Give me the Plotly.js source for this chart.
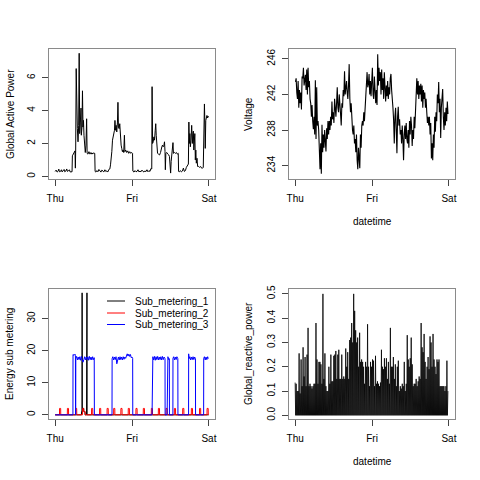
<!DOCTYPE html>
<html>
<head>
<meta charset="utf-8">
<script src="https://cdn.plot.ly/plotly-3.0.1.min.js"></script>
<style>html,body{margin:0;padding:0;background:#fff}#chart{width:480px;height:480px}</style>
</head>
<body>
<div id="chart"></div>
<script>
// ---------- DATA (hours since Thursday 00:00) ----------
const dayTicks = [0, 24, 48];
const dayLabels = ["Thu", "Fri", "Sat"];

// Global active power (kilowatts)
const gapHours = [0.0,0.31,0.62,0.93,1.14,1.34,1.66,1.97,2.17,2.48,
2.79,3.0,3.31,3.62,3.83,4.14,4.45,4.66,4.97,5.28,
5.38,5.69,6.0,6.2,6.31,6.41,6.57,6.72,6.93,7.14,
7.34,7.5,7.66,7.86,8.07,8.17,8.38,8.53,8.69,8.84,
9.0,9.21,9.41,9.62,9.83,9.98,10.24,10.55,10.86,11.17,
11.48,11.79,12.1,12.36,12.47,12.72,13.03,13.34,13.66,13.97,
14.28,14.59,14.9,15.21,15.52,15.83,16.14,16.45,16.76,17.07,
17.28,17.49,17.69,17.9,18.1,18.31,18.52,18.67,18.83,19.03,
19.24,19.45,19.6,19.76,19.97,20.17,20.38,20.59,20.79,21.0,
21.21,21.41,21.62,21.78,22.03,22.34,22.66,22.97,23.28,23.59,
23.9,24.16,24.26,24.62,24.93,25.24,25.55,25.86,26.17,26.48,
26.79,27.1,27.41,27.72,28.03,28.35,28.66,28.97,29.28,29.59,
29.9,30.16,30.26,30.41,30.62,30.83,31.03,31.24,31.4,31.55,
31.76,31.97,32.28,32.59,32.9,33.1,33.31,33.52,33.72,33.93,
34.14,34.3,34.4,34.55,34.86,35.17,35.48,35.69,35.9,36.05,
36.21,36.41,36.62,36.78,36.93,37.24,37.55,37.86,38.17,38.43,
38.53,38.79,39.1,39.41,39.72,40.03,40.34,40.66,40.97,41.17,
41.38,41.59,41.74,41.9,42.05,42.21,42.41,42.62,42.83,42.98,
43.14,43.29,43.45,43.6,43.76,43.91,44.07,44.28,44.48,44.79,
45.1,45.41,45.72,46.03,46.24,46.34,46.45,46.6,46.76,46.86,
47.02,47.17,47.38,47.59,47.74,47.9];
const gapPower = [0.30,0.38,0.26,0.32,0.44,0.28,0.30,0.40,0.27,0.34,
0.42,0.28,0.32,0.45,0.30,0.34,0.40,0.27,0.30,0.28,
1.25,1.35,1.45,1.55,0.5,1.6,6.55,3.2,2.9,2.1,
3.1,7.48,2.6,3.3,4.15,2.5,3.0,5.2,3.0,3.4,
2.5,1.7,1.45,1.9,3.5,1.4,1.35,1.5,1.35,1.45,
1.35,1.42,1.38,1.4,0.3,0.26,0.35,0.28,0.42,0.30,
0.26,0.38,0.30,0.27,0.40,0.29,0.33,0.27,0.42,0.45,
0.7,1.0,1.5,2.2,2.35,2.6,2.8,3.4,2.8,3.1,
2.7,3.3,4.5,3.0,2.9,3.2,2.3,1.9,1.7,1.5,
1.6,1.45,2.5,1.5,1.6,1.45,1.55,1.4,1.5,1.4,
1.45,1.4,0.32,0.26,0.35,0.28,0.30,0.40,0.27,0.32,
0.28,0.38,0.30,0.27,0.33,0.29,0.40,0.28,0.35,0.30,
0.48,0.45,5.45,2.0,2.1,2.4,2.2,2.8,3.2,2.5,
1.8,1.4,1.35,1.3,1.45,1.7,1.8,1.9,1.8,1.85,
2.1,1.5,0.4,1.4,1.45,1.35,1.3,1.2,0.3,0.2,
0.9,1.5,1.6,2.05,1.4,1.45,1.4,1.45,1.35,1.4,
0.3,0.28,0.35,0.27,0.32,0.5,0.3,0.35,0.55,0.6,
0.7,0.75,3.3,2.0,2.6,1.8,2.2,3.1,2.0,2.6,
2.75,1.6,2.2,2.6,1.0,1.6,0.8,1.1,0.6,0.6,
0.55,0.6,0.5,0.5,0.55,2.0,4.0,4.4,3.0,1.7,
3.4,3.5,3.7,3.55,3.65,3.6];

// Voltage, sampled every ~12.4 minutes starting at 00:06 Thursday
const voltageStartHour = 0.1;
const voltageStepMinutes = 12.42;
const voltage = [243.4,243.8,242.2,241.5,243.5,240.5,242.5,241.0,242.2,240.3,
244.0,243.8,245.0,243.0,243.6,244.2,242.5,244.8,242.0,245.0,
242.8,243.5,241.5,241.0,239.5,240.8,239.0,238.1,239.5,237.5,
243.6,237.0,242.8,238.5,239.0,238.0,235.0,233.6,236.5,233.1,
238.6,235.5,237.5,236.0,238.0,236.5,235.6,238.2,237.0,239.0,
237.5,239.0,238.0,239.5,238.5,241.2,239.2,240.0,238.8,241.5,
240.2,239.5,241.0,242.8,240.5,240.0,242.0,241.2,239.8,238.5,
241.0,240.5,242.5,241.8,244.6,242.0,242.8,243.5,242.2,241.5,
243.0,245.4,241.5,240.0,241.0,239.0,238.0,237.5,238.5,236.5,
237.0,235.5,237.5,234.6,233.6,236.0,234.0,233.7,237.5,236.0,
238.5,239.0,238.5,240.0,239.0,240.5,240.8,242.5,244.5,242.8,
243.2,244.3,242.0,243.5,241.8,243.5,245.0,242.0,241.5,244.0,
243.0,241.0,242.5,240.8,246.5,243.0,245.0,243.5,244.5,242.0,
244.8,242.5,243.8,241.5,244.5,242.0,241.2,243.0,241.8,243.5,
241.5,242.8,242.0,243.8,244.3,242.5,241.8,240.5,239.1,236.5,
239.5,240.5,238.0,235.4,239.5,240.6,238.5,239.2,237.5,238.0,
236.5,238.5,237.0,234.6,237.5,238.5,237.0,238.8,237.0,236.5,
238.0,236.0,239.0,237.5,239.5,238.5,236.2,238.0,237.0,239.5,
238.2,239.8,242.5,243.8,242.0,243.5,241.5,243.0,242.0,243.2,
241.2,243.0,240.5,242.5,241.5,242.2,240.5,241.5,240.0,238.8,
239.5,238.5,239.5,237.5,238.8,234.8,236.5,234.6,237.5,236.0,
239.5,237.8,240.0,239.0,242.0,241.0,243.4,240.0,241.5,237.1,
240.5,241.5,242.6,239.5,238.0,240.0,238.5,240.5,239.0,241.2,
239.8];

// Sub metering (watt-hour of active energy)
const sub1Hours = [0, 8.2, 8.25, 8.4, 8.42, 8.47, 8.55, 8.6, 8.9, 8.95, 9.3, 9.35, 9.8, 9.83, 9.88, 9.93, 9.98, 47.9];
const sub1Values = [0, 0, 1, 1, 38, 1, 38, 2, 2, 1, 1, 0, 0, 38, 1, 38, 0, 0];

const sub2Hours = [0, 1.35,1.38,1.72,1.75, 3.8,3.83,4.17,4.2, 6.35,6.38,6.72,6.75,
 8.55,8.58,8.92,8.95,9.35,9.38, 11.35,11.38,11.72,11.75, 13.85,13.88,14.22,14.25,
 16.2,16.23,16.57,16.6, 18.25,18.28,18.62,18.65, 20.5,20.53,20.87,20.9,
 22.8,22.83,23.17,23.2, 25.2,25.23,25.57,25.6, 27.5,27.53,27.87,27.9,
 30.0,30.03,30.37,30.4, 32.2,32.23,32.57,32.6, 34.6,34.63,34.97,35.0,
 37.2,37.23,37.57,37.6, 39.8,39.83,40.17,40.2, 42.5,42.53,42.87,42.9,
 45.05,45.08,45.42,45.45, 47.4,47.43,47.77,47.8, 47.9];
const sub2Values = [0, 0,2,2,0, 0,2,2,0, 0,2,2,0,
 0,2,2,1,1,0, 0,2,2,0, 0,2,2,0,
 0,2,2,0, 0,2,2,0, 0,2,2,0,
 0,2,2,0, 0,2,2,0, 0,2,2,0,
 0,2,2,0, 0,2,2,0, 0,2,2,0,
 0,2,2,0, 0,2,2,0, 0,2,2,0,
 0,2,2,0, 0,2,2,0, 0];

const sub3Hours = [0, 5.55, 5.58, 5.9, 6.2, 6.33, 6.36, 6.42, 6.45,
 6.7, 6.95, 7.2, 7.45, 7.7, 7.95, 8.2, 8.45, 8.7, 8.95, 9.2, 9.45, 9.7, 9.95,
 10.2, 10.45, 10.7, 10.95, 11.2, 11.45, 11.7, 11.95, 12.2, 12.25,
 17.75, 17.78, 18.0, 18.25, 18.5, 18.75, 19.0, 19.25, 19.5, 19.75, 20.0, 20.25,
 20.5, 20.75, 21.0, 21.25, 21.5, 21.75, 22.0, 22.25, 22.5, 22.75, 23.0, 23.25,
 23.5, 23.75, 24.0, 24.2, 24.23,
 30.25, 30.28, 30.5, 30.75, 31.0, 31.25, 31.5, 31.75, 32.0, 32.25, 32.5, 32.75,
 33.0, 33.25, 33.5, 33.75, 34.0, 34.3, 34.33, 34.95, 34.98, 35.2, 35.45, 35.65, 35.68,
 36.75, 36.78, 37.0, 37.25, 37.5, 37.75, 38.0, 38.3, 38.33,
 41.65, 41.68, 41.8, 42.05, 42.3, 42.55, 42.8, 43.05, 43.3, 43.55, 43.8, 43.83,
 46.35, 46.38, 46.6, 46.85, 47.1, 47.35, 47.6, 47.8];
const sub3Values = [0, 0, 18.8, 18.5, 18.9, 18.5, 0, 0, 17.5,
 18.2, 17.1, 18.0, 17.2, 18.1, 17.0, 18.2, 17.2, 16.4, 17.2, 18.1, 17.1, 18.0, 17.2,
 18.1, 17.0, 18.2, 17.2, 18.0, 17.1, 18.1, 17.2, 17.8, 0,
 0, 17.5, 18.1, 17.1, 18.0, 17.2, 18.1, 15.9, 17.2, 18.0, 17.1, 18.1,
 17.2, 18.0, 17.1, 18.1, 17.3, 18.0, 17.6, 18.6, 19.0, 18.3, 18.9, 18.2,
 18.8, 17.8, 18.0, 17.6, 0,
 0, 17.6, 18.1, 17.1, 18.2, 17.0, 18.1, 17.2, 18.2, 17.1, 18.0, 17.2,
 18.1, 17.1, 18.2, 17.2, 18.0, 17.5, 0, 0, 17.6, 18.1, 17.2, 17.5, 0,
 0, 17.6, 18.1, 17.1, 18.0, 17.2, 18.1, 17.5, 0,
 0, 19.0, 17.5, 18.1, 17.1, 18.0, 17.2, 18.1, 17.2, 18.0, 17.5, 0,
 0, 17.6, 18.1, 17.1, 18.0, 17.2, 18.1, 17.5];

// Global reactive power (kilowatts), sampled every ~9.3 minutes from Thursday 00:00
const reactiveStepMinutes = 9.29;
const reactivePower = [0.135,0, 0.13,0, 0.10,0, 0.10,0, 0.255,0, 0.09,0, 0.23,0, 0.12,0, 0.28,0, 0.16,0,
 0.24,0, 0.12,0, 0.25,0, 0.36,0, 0.12,0, 0.13,0, 0.12,0, 0.11,0, 0.12,0, 0.13,0,
 0.13,0, 0.38,0, 0.23,0, 0.13,0, 0.22,0, 0.22,0, 0.21,0, 0.13,0, 0.50,0, 0.15,0,
 0.255,0, 0.12,0, 0.10,0, 0.10,0, 0.20,0, 0.13,0, 0.25,0, 0.14,0, 0.14,0, 0.245,0,
 0.25,0, 0.265,0, 0.15,0, 0.25,0, 0.27,0, 0.15,0, 0.15,0, 0.25,0, 0.15,0, 0.16,0,
 0.15,0, 0.275,0, 0.20,0, 0.26,0, 0.15,0, 0.31,0, 0.32,0, 0.38,0, 0.30,0, 0.50,0,
 0.43,0, 0.35,0, 0.30,0, 0.32,0, 0.20,0, 0.34,0, 0.22,0, 0.23,0, 0.22,0, 0.20,0,
 0.13,0, 0.22,0, 0.20,0, 0.375,0, 0.20,0, 0.12,0, 0.22,0, 0.20,0, 0.23,0, 0.225,0,
 0.12,0, 0.245,0, 0.13,0, 0.14,0, 0.13,0, 0.12,0, 0.135,0, 0.27,0, 0.20,0, 0.19,0,
 0.235,0, 0.20,0, 0.235,0, 0.15,0, 0.22,0, 0.13,0, 0.36,0, 0.20,0, 0.20,0, 0.24,0,
 0.15,0, 0.21,0, 0.12,0, 0.20,0, 0.225,0, 0.10,0, 0.12,0, 0.11,0, 0.13,0, 0.12,0,
 0.22,0, 0.10,0, 0.13,0, 0.33,0, 0.23,0, 0.20,0, 0.235,0, 0.32,0, 0.21,0, 0.12,0,
 0.13,0, 0.13,0, 0.15,0, 0.12,0, 0.14,0, 0.16,0, 0.15,0, 0.38,0, 0.28,0, 0.26,0,
 0.335,0, 0.22,0, 0.15,0, 0.20,0, 0.24,0, 0.19,0, 0.325,0, 0.30,0, 0.20,0, 0.335,0,
 0.23,0, 0.20,0, 0.17,0, 0.23,0, 0.22,0, 0.23,0, 0.12,0, 0.12,0, 0.12,0, 0.12,0,
 0.12,0, 0.10,0, 0.12,0, 0.225,0, 0.10];

const seriesNames = ["Sub_metering_1", "Sub_metering_2", "Sub_metering_3"];
const seriesColors = ["#000000", "#ff0000", "#0000ff"];

// ---------- BUILD ----------
const voltageHours = voltage.map((_, i) => voltageStartHour + i * voltageStepMinutes / 60);
const reactiveHours = reactivePower.map((_, i) => i * reactiveStepMinutes / 60);

const W = 480, H = 480;
const px = x => x / W;
const py = y => 1 - y / H;
const FONT = "Liberation Sans, Arial, Helvetica, sans-serif";

const line = (c, w) => ({color: c, width: w || 1});
const traces = [
  {x: gapHours, y: gapPower, xaxis: "x", yaxis: "y", mode: "lines", line: line("#000")},
  {x: voltageHours, y: voltage, xaxis: "x2", yaxis: "y2", mode: "lines", line: line("#000", 1.1)},
  {x: sub1Hours, y: sub1Values, xaxis: "x3", yaxis: "y3", mode: "lines", line: line(seriesColors[0]), name: seriesNames[0]},
  {x: sub2Hours, y: sub2Values, xaxis: "x3", yaxis: "y3", mode: "lines", line: line(seriesColors[1]), name: seriesNames[1]},
  {x: sub3Hours, y: sub3Values, xaxis: "x3", yaxis: "y3", mode: "lines", line: line(seriesColors[2]), name: seriesNames[2]},
  {x: reactiveHours, y: reactivePower, xaxis: "x4", yaxis: "y4", mode: "lines", line: line("#000", 0.8)}
];

const xRange = [-1.92, 49.9];
const common = {
  showline: true, mirror: true, linecolor: "#8a8a8a", linewidth: 1,
  ticks: "outside", ticklen: 6, tickcolor: "#444", tickwidth: 1,
  showgrid: false, zeroline: false, fixedrange: true,
  tickfont: {family: FONT, size: 10, color: "#000"}
};
const xAxis = (dom, anchor) => Object.assign({}, common, {
  domain: dom, anchor: anchor, range: xRange, ticklabelstandoff: 4,
  tickmode: "array", tickvals: dayTicks, ticktext: dayLabels
});
const yAxis = (dom, anchor, range, vals, fmt) => Object.assign({}, common, {
  domain: dom, anchor: anchor, range: range, ticklabelstandoff: 3,
  tickmode: "array", tickvals: vals, tickformat: fmt || "", tickangle: -90
});

const leftX = [px(49), px(215)], rightX = [px(289), px(455)];
const topY = [py(179), py(49)], botY = [py(419), py(289)];

const title = (text, x, y, angle) => ({
  text: text, xref: "paper", yref: "paper", x: px(x), y: py(y),
  xanchor: "center", yanchor: "middle", showarrow: false, textangle: angle || 0,
  font: {family: FONT, size: 10, color: "#000"}
});

const legendRows = [301, 313, 324.5];
const legendShapes = seriesNames.map((n, i) => ({
  type: "line", xref: "paper", yref: "paper",
  x0: px(107), x1: px(125), y0: py(legendRows[i]), y1: py(legendRows[i]),
  line: {color: seriesColors[i], width: 1}
}));
const legendText = seriesNames.map((n, i) => ({
  text: n, xref: "paper", yref: "paper", x: px(133), y: py(legendRows[i]),
  xanchor: "left", yanchor: "middle", showarrow: false,
  font: {family: FONT, size: 10, color: "#000"}
}));

const layout = {
  width: W, height: H, margin: {l: 0, r: 0, t: 0, b: 0},
  paper_bgcolor: "#fff", plot_bgcolor: "#fff", showlegend: false,
  xaxis: xAxis(leftX, "y"),
  yaxis: yAxis(topY, "x", [-0.16, 7.74], [0, 2, 4, 6]),
  xaxis2: xAxis(rightX, "y2"),
  yaxis2: yAxis(topY, "x2", [232.5, 247.1], [234, 238, 242, 246]),
  xaxis3: xAxis(leftX, "y3"),
  yaxis3: yAxis(botY, "x3", [-1.3, 39.2], [0, 10, 20, 30]),
  xaxis4: xAxis(rightX, "y4"),
  yaxis4: yAxis(botY, "x4", [-0.015, 0.52], [0, 0.1, 0.2, 0.3, 0.4, 0.5], ".1f"),
  shapes: legendShapes,
  annotations: [
    title("Global Active Power", 10, 114, -90),
    title("Voltage", 248, 114, -90),
    title("datetime", 372, 221),
    title("Energy sub metering", 9, 354, -90),
    title("Global_reactive_power", 248, 354, -90),
    title("datetime", 372, 461)
  ].concat(legendText)
};

Plotly.newPlot("chart", traces, layout, {staticPlot: true, displayModeBar: false});
</script>
</body>
</html>
